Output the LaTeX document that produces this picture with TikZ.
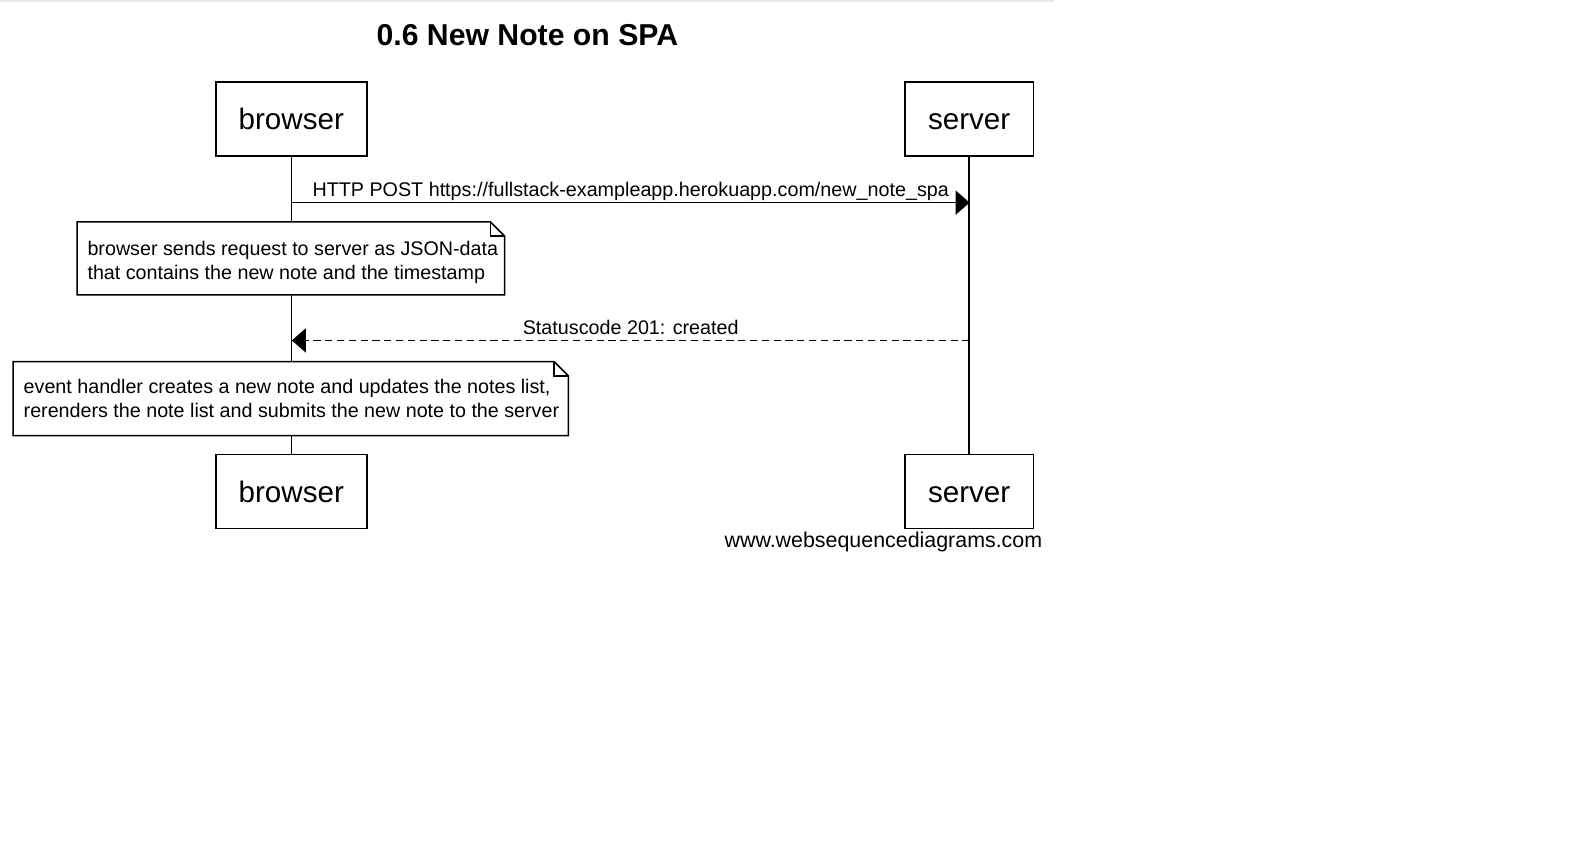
\documentclass[tikz,border=0pt]{standalone}
\usepackage{fontspec}
\setmainfont{Liberation Sans}
\usetikzlibrary{arrows.meta}
\tikzset{
  actor/.style={draw, line width=0.75pt, fill=white, minimum height=37pt, inner sep=0pt, text height=10.9pt, text depth=0pt, font=\fontsize{14.8}{17}\selectfont},
  life/.style={line width=0.75pt},
  msg/.style={line width=0.75pt, -{Triangle[length=7pt,width=12pt]}},
  reply/.style={msg, dash pattern=on 3.6pt off 2.3pt},
  lbl/.style={font=\fontsize{9.87}{12}\selectfont, inner sep=0pt, anchor=base, yshift=2.9pt},
  notetext/.style={font=\fontsize{9.85}{12.15}\selectfont, align=left, inner sep=0pt, text depth=0pt},
  noteline/.style={line width=0.75pt, fill=white},
}
\begin{document}
\begin{tikzpicture}[x=0.5066pt, y=-0.5066pt]
\useasboundingbox (0,0) rectangle (793pt,-430pt);
\fill[white] (0,0) rectangle (793pt,-430pt);
\fill[black!9] (0,0) rectangle (1040,2);

\node[font=\bfseries\fontsize{15.1}{17}\selectfont] (title) at (520.5,35) {0.6 New Note on SPA};

\node[actor, minimum width=75.5pt] (bt) at (287.5,117.5) {browser};
\node[actor, minimum width=64.3pt] (st) at (956.5,117.5) {server};
\node[actor, minimum width=75.5pt] (bb) at (287.5,485) {browser};
\node[actor, minimum width=64.3pt] (sb) at (956.5,485) {server};

\draw[life] (bt.south) -- (bb.north);
\draw[life] (st.south) -- (sb.north);

\coordinate (m1b) at (288,200);
\coordinate (m1s) at (957,200);
\draw[msg] (m1b) -- node[lbl] (l1) {HTTP POST https://fullstack-exampleapp.herokuapp.com/new\_note\_spa} (m1s);

% note 1
\draw[noteline] (76,219) -- (484,219) -- (498,233) -- (498,291) -- (76,291) -- cycle;
\draw[line width=0.75pt] (484,219) -- (484,233) -- (498,233);
\node[notetext, anchor=north west] (n1) at (86,237.5) {browser sends request to server as JSON-data\\that contains the new note and the timestamp};

\coordinate (m2s) at (957,336);
\coordinate (m2b) at (288,336);
\draw[reply] (m2s) -- node[lbl] (l2) {Statuscode 201: created} (m2b);

% note 2
\draw[noteline] (13,357) -- (547,357) -- (561,371) -- (561,430) -- (13,430) -- cycle;
\draw[line width=0.75pt] (547,357) -- (547,371) -- (561,371);
\node[notetext, anchor=north west] (n2) at (23,373.5) {event handler creates a new note and updates the notes list,\\rerenders the note list and submits the new note to the server};

\node[font=\fontsize{10.7}{12}\selectfont, anchor=east, inner sep=0pt] (foot) at (1029,535) {www.websequencediagrams.com};
\end{tikzpicture}
\end{document}
